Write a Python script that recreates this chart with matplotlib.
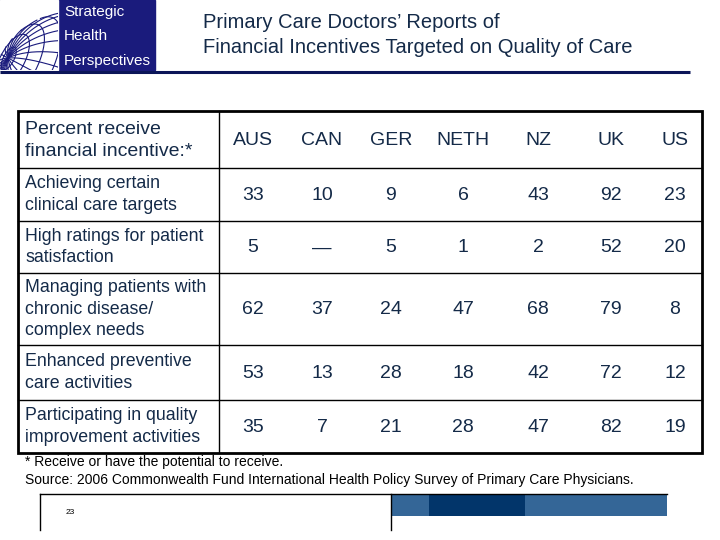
import matplotlib
matplotlib.use("Agg")
import matplotlib.pyplot as plt
import numpy as np
from matplotlib.patches import Rectangle

## donnees du tableau
pays = ["AUS", "CAN", "GER", "NETH", "NZ", "UK", "US"]
libelles_lignes = [
    "Achieving certain\nclinical care targets",
    "High ratings for patient\nsatisfaction",
    "Managing patients with\nchronic disease/\ncomplex needs",
    "Enhanced preventive\ncare activities",
    "Participating in quality\nimprovement activities",
]
cibles_cliniques = [33, 10, 9, 6, 43, 92, 23]
satisfaction_patient = [5, None, 5, 1, 2, 52, 20]
maladies_chroniques = [62, 37, 24, 47, 68, 79, 8]
soins_preventifs = [53, 13, 28, 18, 42, 72, 12]
amelioration_qualite = [35, 7, 21, 28, 47, 82, 19]
valeurs = [cibles_cliniques, satisfaction_patient, maladies_chroniques,
           soins_preventifs, amelioration_qualite]

titre = "Primary Care Doctors\u2019 Reports of\nFinancial Incentives Targeted on Quality of Care"
entete = "Percent receive\nfinancial incentive:*"
note = "* Receive or have the potential to receive."
source = "Source: 2006 Commonwealth Fund International Health Policy Survey of Primary Care Physicians."

## mise en page (pixels)
x_col = [253, 322, 391, 463, 538, 611, 675]
y_lignes = [111, 168, 221, 273, 345, 400, 453]
x_gauche, x_droite, x_sep = 17.5, 702, 219

texte = "#142a48"
navy = "#1a1b7c"

fig = plt.figure(figsize=(7.2, 5.4), dpi=100)
ax = fig.add_axes([0, 0, 1, 1])
ax.set_xlim(0, 720)
ax.set_ylim(540, 0)
ax.axis("off")

# logo
ax.add_patch(Rectangle((0, 0), 155, 70, color=navy, zorder=1))
ax.add_patch(Rectangle((0, 0), 58, 70, color="white", zorder=2))
clip = Rectangle((0, 0), 58, 70, transform=ax.transData)
cx, cy, R = 72, 92, 80
a1, a2 = np.radians(25), np.radians(62)

def proj(lat, lon):      # sphere filaire, pole vers la gauche
    x = np.cos(lat) * np.sin(lon)
    y = np.sin(lat)
    z = np.cos(lat) * np.cos(lon)
    y, z = y * np.cos(a1) - z * np.sin(a1), y * np.sin(a1) + z * np.cos(a1)
    x, y = x * np.cos(a2) - y * np.sin(a2), x * np.sin(a2) + y * np.cos(a2)
    return x, y, z

t = np.linspace(-np.pi, np.pi, 400)
for lat in np.radians(np.arange(-75, 90, 12)):
    x, y, z = proj(np.full_like(t, lat), t)
    x[z < 0] = np.nan
    l, = ax.plot(cx + R * x, cy - R * y, color=navy, lw=0.8, zorder=3)
    l.set_clip_path(clip)
tt = np.linspace(-np.pi / 2, np.pi / 2, 300)
for lon in np.radians(np.arange(0, 360, 15)):
    x, y, z = proj(tt, np.full_like(tt, lon))
    x[z < 0] = np.nan
    l, = ax.plot(cx + R * x, cy - R * y, color=navy, lw=0.8, zorder=3)
    l.set_clip_path(clip)
for i, mot in enumerate(["Strategic", "Health", "Perspectives"]):
    ax.text(64, 12 + i * 24.5, mot, color="white", fontsize=11,
            family="Liberation Sans", va="center", zorder=4)

ax.plot([0, 690], [72, 72], color="#0b1558", lw=2.2, solid_capstyle="butt")

# titre
ax.text(203, 35, titre, color=texte, fontsize=14.5, family="Liberation Sans",
        va="center", linespacing=1.35)

# tableau
ax.add_patch(Rectangle((x_gauche, y_lignes[0]), x_droite - x_gauche,
                       y_lignes[-1] - y_lignes[0], fill=False, ec="black", lw=2, zorder=5))
for y in y_lignes[1:-1]:
    ax.plot([x_gauche, x_droite], [y, y], color="black", lw=1)
ax.plot([x_sep, x_sep], [y_lignes[0], y_lignes[-1]], color="black", lw=1)

ax.text(25, (y_lignes[0] + y_lignes[1]) / 2 + 1, entete, color=texte, fontsize=14,
        family="Liberation Sans", va="center", linespacing=1.35)
for j, p in enumerate(pays):
    ax.text(x_col[j], (y_lignes[0] + y_lignes[1]) / 2 + 1, p, color=texte,
            fontsize=14, family="Liberation Sans", ha="center", va="center")

for i, lib in enumerate(libelles_lignes):
    yc = (y_lignes[i + 1] + y_lignes[i + 2]) / 2
    ax.text(25, yc, lib, color=texte, fontsize=12.8, family="Liberation Sans",
            va="center", linespacing=1.33)
    for j, v in enumerate(valeurs[i]):
        s = "\u2014" if v is None else str(v)
        ax.text(x_col[j], yc + 1, s, color=texte, fontsize=14,
                family="Liberation Sans", ha="center", va="center")

# notes
ax.text(25, 462, note, color="black", fontsize=10, family="Liberation Sans", va="center")
ax.text(25, 480, source, color="black", fontsize=10, family="Liberation Sans", va="center")

# bandeau bas
ax.plot([40, 667], [494, 494], color="black", lw=1)
ax.plot([40, 40], [494, 530], color="black", lw=1)
ax.plot([391, 391], [494, 530], color="black", lw=1)
ax.add_patch(Rectangle((391, 494), 276, 22, color="#346697", lw=0))
ax.add_patch(Rectangle((429, 494), 96, 22, color="#02356a", lw=0))
ax.text(66, 512, "23", color="black", fontsize=6, family="Liberation Sans", va="center")

fig.savefig("out.png", dpi=100)
